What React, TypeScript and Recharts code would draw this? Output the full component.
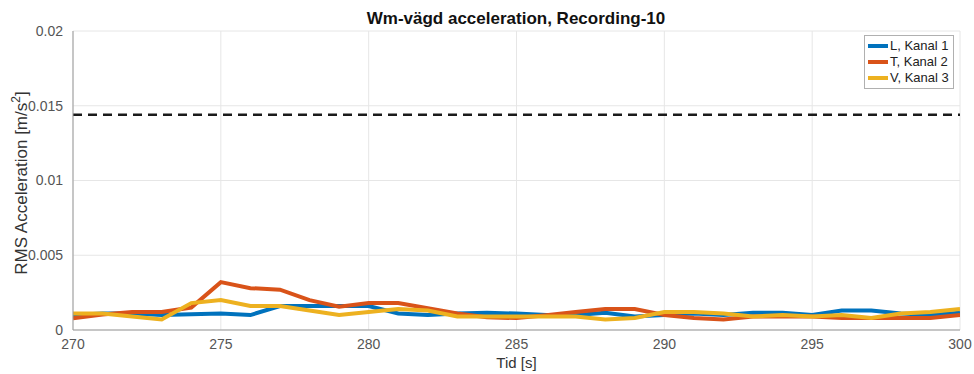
import React from "react";
import { LineChart, Line, XAxis, YAxis, CartesianGrid, ReferenceLine } from "recharts";

const time = [270,271,272,273,274,275,276,277,278,279,280,281,282,283,284,285,286,287,288,289,290,291,292,293,294,295,296,297,298,299,300];
const kanal1 = [0.001,0.0011,0.0011,0.001,0.00105,0.0011,0.001,0.0016,0.0016,0.0016,0.0016,0.0011,0.001,0.0011,0.00115,0.0011,0.001,0.001,0.00115,0.0009,0.001,0.0011,0.001,0.00115,0.00115,0.001,0.0013,0.0013,0.0011,0.001,0.00115];
const kanal2 = [0.00078,0.00104,0.0012,0.0012,0.0015,0.0032,0.0028,0.0027,0.002,0.00156,0.0018,0.0018,0.00145,0.0011,0.00085,0.0008,0.00098,0.0012,0.0014,0.0014,0.001,0.0008,0.0007,0.0009,0.0009,0.0009,0.0008,0.0008,0.0008,0.0008,0.001];
const kanal3 = [0.0011,0.0011,0.0009,0.0007,0.0018,0.002,0.0016,0.0016,0.0013,0.001,0.0012,0.0014,0.0013,0.0009,0.0009,0.0009,0.0009,0.0009,0.0007,0.0008,0.0012,0.0012,0.0011,0.0009,0.001,0.0009,0.001,0.0008,0.0011,0.0012,0.0014];
const limit = 0.0144;
const xTicks = [270,275,280,285,290,295,300];
const yTicks = [0,0.005,0.01,0.015,0.02];
const seriesNames = ["L, Kanal 1", "T, Kanal 2", "V, Kanal 3"];
const colors = ["#0072BD", "#D95319", "#EDB120"];

const data = time.map((t, i) => ({ t, k1: kanal1[i], k2: kanal2[i], k3: kanal3[i] }));

const FONT = "'Liberation Sans', Arial, sans-serif";

const LegendBox = () => (
  <div style={{ position: "absolute", left: 864, top: 35, border: "1px solid #b0b0b0", background: "#fff", padding: "2px 4px 2px 3px", fontFamily: FONT, fontSize: 13, color: "#222", lineHeight: "16px" }}>
    {seriesNames.map((n, i) => (
      <div key={n} style={{ display: "flex", alignItems: "center" }}>
        <span style={{ display: "inline-block", width: 20, height: 4, background: colors[i], marginRight: 2 }} />
        <span>{n}</span>
      </div>
    ))}
  </div>
);

const YLabel = () => (
  <text x={0} y={0} transform="translate(27,183) rotate(-90)" textAnchor="middle" fontFamily={FONT} fontSize={17} fill="#333">
    RMS Acceleration [m/s<tspan dy={-7} fontSize={12}>2</tspan><tspan dy={7}>]</tspan>
  </text>
);

export default function App() {
  return (
    <div style={{ position: "fixed", left: 0, top: 0, width: 974, height: 374, background: "#fff" }}>
      <LineChart width={974} height={374} data={data} margin={{ top: 31, right: 14, bottom: 14, left: 13 }}>
        <text x={516} y={24} textAnchor="middle" fontFamily={FONT} fontSize={17} fontWeight="bold" fill="#111">
          Wm-vägd acceleration, Recording-10
        </text>
        <CartesianGrid stroke="#e6e6e6" strokeWidth={1} />
        <XAxis
          dataKey="t"
          type="number"
          domain={[270, 300]}
          ticks={xTicks}
          allowDataOverflow
          stroke="#999"
          tickLine={false}
          tick={{ fill: "#555", fontSize: 14, fontFamily: FONT }}
          tickMargin={3}
          height={30}
          label={{ value: "Tid [s]", position: "insideBottom", offset: -8, fill: "#333", fontSize: 15, fontFamily: FONT }}
        />
        <YAxis
          type="number"
          domain={[0, 0.02]}
          ticks={yTicks}
          allowDataOverflow
          stroke="#999"
          tickLine={false}
          width={60}
          tickMargin={4}
          tick={{ fill: "#555", fontSize: 14, fontFamily: FONT }}
          label={<YLabel />}
        />
        <XAxis xAxisId="top" orientation="top" dataKey="t" type="number" domain={[270, 300]} ticks={xTicks} tick={false} tickLine={false} stroke="#999" height={0} />
        <YAxis yAxisId="right" orientation="right" domain={[0, 0.02]} tick={false} tickLine={false} stroke="#999" width={0} />
        <ReferenceLine y={limit} stroke="#1a1a1a" strokeWidth={2.5} strokeDasharray="9 6" ifOverflow="extendDomain" />
        <Line dataKey="k1" name={seriesNames[0]} stroke={colors[0]} strokeWidth={4} dot={false} isAnimationActive={false} />
        <Line dataKey="k2" name={seriesNames[1]} stroke={colors[1]} strokeWidth={4} dot={false} isAnimationActive={false} />
        <Line dataKey="k3" name={seriesNames[2]} stroke={colors[2]} strokeWidth={4} dot={false} isAnimationActive={false} />
      </LineChart>
      <LegendBox />
    </div>
  );
}
